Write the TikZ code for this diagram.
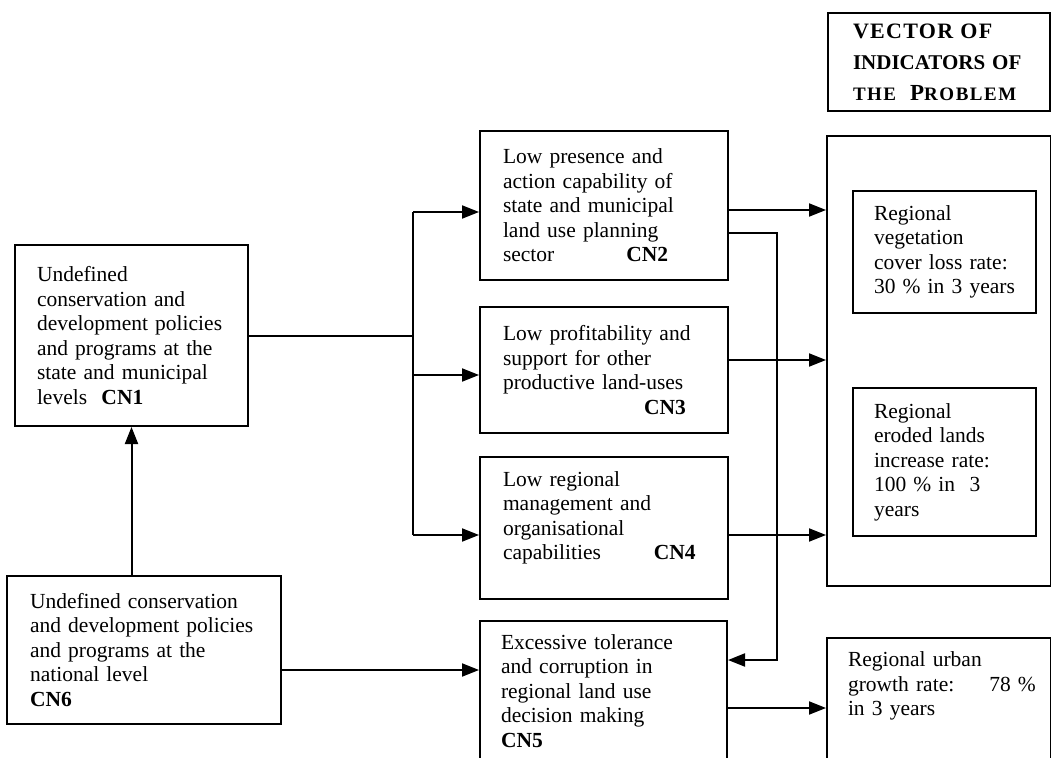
\documentclass[tikz,border=0pt]{standalone}
\usepackage{fontspec}
\setmainfont{Liberation Serif}
\usetikzlibrary{arrows.meta}

\tikzset{
  box/.style={draw, rectangle, anchor=north west, inner ysep=0pt, align=left,
    font=\fontsize{21.5}{24.5}\selectfont},
  heading/.style={box, font=\fontsize{21}{31}\selectfont\bfseries},
}

\begin{document}
\begin{tikzpicture}[->, >={Triangle[length=17pt,width=13pt]}, x=1pt, y=-1pt, line width=2pt]

  \useasboundingbox (0,0) rectangle (1051,757);

  % Causes
  \node[box, minimum width=233pt, minimum height=181pt, inner xsep=22pt, text width=189pt] (cn1) at (14,244)
    {Undefined\\conservation and\\development policies\\and programs at the\\state and municipal\\levels\ \ \textbf{CN1}};
  \node[box, minimum width=274pt, minimum height=148pt, inner xsep=23pt, text width=228pt] (cn6) at (6,575)
    {Undefined conservation\\and development policies\\and programs at the\\national level\\\textbf{CN6}};
  \node[box, minimum width=248pt, minimum height=149pt, inner xsep=23pt, text width=202pt] (cn2) at (479,130)
    {Low presence and\\action capability of\\state and municipal\\land use planning\\sector\hspace{72pt}\textbf{CN2}};
  \node[box, minimum width=248pt, minimum height=126pt, inner xsep=23pt, text width=202pt] (cn3) at (479,306)
    {Low profitability and\\support for other\\productive land-uses\\\hspace*{141pt}\textbf{CN3}};
  \node[box, minimum width=248pt, minimum height=142pt, inner xsep=23pt, text width=202pt] (cn4) at (479,456)
    {Low regional\\management and\\organisational\\capabilities\hspace{53pt}\textbf{CN4}\\\mbox{}};
  \node[box, minimum width=247pt, minimum height=140pt, inner xsep=21pt, text width=205pt] (cn5) at (479,620)
    {Excessive tolerance\\and corruption in\\regional land use\\decision making\\\textbf{CN5}};

  % Indicators
  \node[heading, minimum width=222pt, minimum height=98pt, inner xsep=25pt, text width=172pt] (vtitle) at (827,12)
    {\mbox{\fontsize{22}{31}\selectfont\addfontfeature{LetterSpace=6}VECTOR OF}\\
     \mbox{INDICATORS OF}\\
     \mbox{\fontsize{19}{31}\selectfont\addfontfeature{LetterSpace=8}THE\ \ {\fontsize{23}{31}\selectfont P}ROBLEM}};
  \node[draw, anchor=north west, minimum width=224pt, minimum height=450pt, inner sep=0pt] (vec) at (826,135) {};
  \node[box, minimum width=183pt, minimum height=122pt, inner xsep=21pt, text width=141pt] (ind1) at (852,190)
    {Regional\\vegetation\\cover loss rate:\\30 \% in 3 years};
  \node[box, minimum width=183pt, minimum height=148pt, inner xsep=21pt, text width=141pt] (ind2) at (852,387)
    {Regional\\eroded lands\\increase rate:\\100 \% in\ \ 3\\years};
  \node[box, minimum width=224pt, minimum height=141pt, inner xsep=21pt, text width=182pt] (urban) at (826,637)
    {Regional urban\\growth rate:\rlap{\hspace{35pt}78 \%}\\in 3 years\\\mbox{}\\\mbox{}};

  % Levels
  \coordinate (top) at (413,212);
  \coordinate (mid) at (413,375);
  \coordinate (bot) at (413,535);
  \coordinate (o2) at (0,210);
  \coordinate (o3) at (0,360);
  \coordinate (o4) at (0,535);
  \coordinate (c6) at (0,670);
  \coordinate (u5) at (0,708);
  \coordinate (fb1) at (777,233);
  \coordinate (fb2) at (777,660);

  % Connectors
  \draw (cn6.north -| cn1.south) -- (cn1.south);
  \draw[-] (cn1.east) -- (cn1.east -| top);
  \draw[-] (top) -- (bot);
  \draw (top) -- (top -| cn2.west);
  \draw (mid) -- (mid -| cn3.west);
  \draw (bot) -- (bot -| cn4.west);
  \draw (cn6.east |- c6) -- (cn5.west |- c6);

  \draw (cn2.east |- o2) -- (vec.west |- o2);
  \draw (cn3.east |- o3) -- (vec.west |- o3);
  \draw (cn4.east |- o4) -- (vec.west |- o4);
  \draw (cn2.east |- fb1) -- (fb1) -- (fb2) -- (cn5.east |- fb2);
  \draw (cn5.east |- u5) -- (urban.west |- u5);

\end{tikzpicture}
\end{document}
